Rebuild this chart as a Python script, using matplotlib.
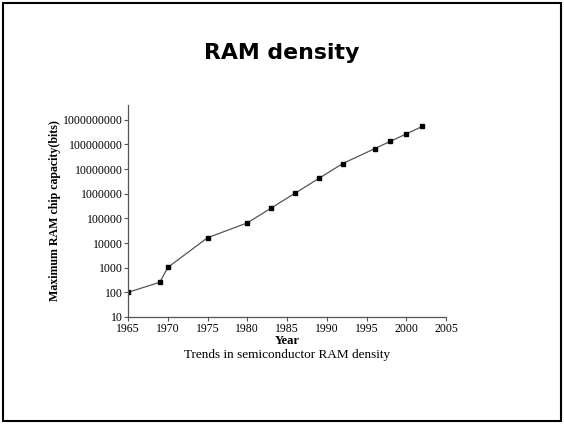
import numpy as np
import matplotlib.pyplot as plt
from matplotlib.patches import Rectangle
from matplotlib.ticker import FixedLocator, NullLocator

years = [1965, 1969, 1970, 1975, 1980, 1983, 1986, 1989, 1992, 1996, 1998, 2000, 2002]
bits = [100, 256, 1024, 16384, 65536, 262144, 1048576, 4194304, 16777216,
        67108864, 134217728, 268435456, 536870912]
xticks = [1965, 1970, 1975, 1980, 1985, 1990, 1995, 2000, 2005]
yticks = [10, 100, 1000, 10000, 100000, 1000000, 10000000, 100000000, 1000000000]

fig = plt.figure(figsize=(5.64, 4.24), dpi=100)
fig.patches.append(Rectangle((0.005, 0.007), 0.99, 0.985, transform=fig.transFigure,
                             fill=False, edgecolor='black', linewidth=1.5))
fig.text(0.5, 0.875, 'RAM density', ha='center', va='center',
         fontsize=15.8, fontweight='bold', family='DejaVu Sans')

ax = fig.add_axes([0.227, 0.2524, 0.564, 0.5])
ax.plot(years, bits, color='#555555', linewidth=0.9, marker='s',
        markersize=2.2, markerfacecolor='black', markeredgecolor='black')
ax.set_yscale('log')
ax.set_xlim(1965, 2005)
ax.set_ylim(10, 10 ** 9.6)
ax.xaxis.set_major_locator(FixedLocator(xticks))
ax.yaxis.set_major_locator(FixedLocator(yticks))
ax.yaxis.set_minor_locator(NullLocator())
ax.set_yticklabels([str(v) for v in yticks])
ax.set_xticklabels([str(v) for v in xticks])
for s in ['top', 'right']:
    ax.spines[s].set_visible(False)
for s in ['left', 'bottom']:
    ax.spines[s].set_color('#555555')
    ax.spines[s].set_linewidth(0.9)
ax.tick_params(direction='out', length=3, width=0.8, color='#555555',
               labelsize=8.5, pad=1)
for lab in ax.get_xticklabels() + ax.get_yticklabels():
    lab.set_family('Liberation Serif')

ax.set_xlabel('Year', fontsize=9, fontweight='bold', family='Liberation Serif', labelpad=0)
ax.set_ylabel('Maximum RAM chip capacity(bits)', fontsize=8.6, fontweight='bold',
              family='Liberation Serif', labelpad=1.5)
fig.text(0.509, 0.162, 'Trends in semiconductor RAM density', ha='center', va='center',
         fontsize=9.5, family='Liberation Serif')

fig.savefig('out.png', dpi=100)
